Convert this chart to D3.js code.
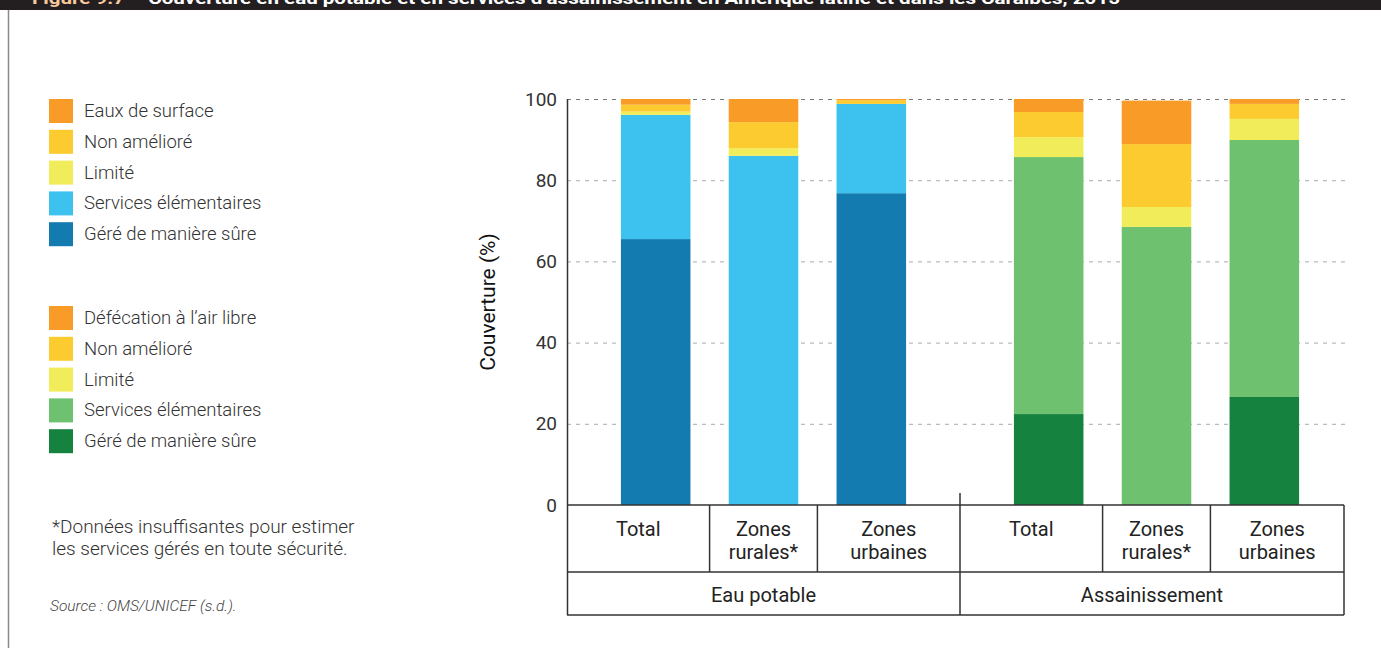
<!DOCTYPE html>
<html><head><meta charset="utf-8">
<script src="https://cdn.jsdelivr.net/npm/d3@7"></script>
<style>
html,body{margin:0;padding:0;background:#fff;}
svg{display:block;font-family:Roboto,"Noto Sans",sans-serif;}
</style></head>
<body><svg id="c" width="1381" height="648"></svg>
<script>
// ---- data ----
const groups = ["Eau potable", "Assainissement"];
const categories = ["Total", "Zones rurales*", "Zones urbaines"];
const categoryLines = [["Total"], ["Zones", "rurales*"], ["Zones", "urbaines"]];
const yTicks = [0, 20, 40, 60, 80, 100];

const waterSeries = ["Géré de manière sûre", "Services élémentaires", "Limité", "Non amélioré", "Eaux de surface"];
const sanitSeries = ["Géré de manière sûre", "Services élémentaires", "Limité", "Non amélioré", "Défécation à l’air libre"];

// values per category: Total, Zones rurales*, Zones urbaines
const waterSafe      = [65.5, 0,    76.8];
const waterBasic     = [30.6, 86.0, 22.0];
const waterLimited   = [0.8,  1.9,  0.0];
const waterUnimp     = [1.7,  6.4,  0.9];
const waterSurface   = [1.4,  5.7,  0.3];

const sanitSafe      = [22.4, 0,    26.6];
const sanitBasic     = [63.3, 68.5, 63.3];
const sanitLimited   = [4.9,  4.9,  5.2];
const sanitUnimp     = [6.2,  15.5, 3.7];
const sanitOpen      = [3.2,  10.7, 1.2];

const waterColors = ["#147bb1", "#3dc2ef", "#f0ec5a", "#fccb30", "#f89b27"];
const sanitColors = ["#15823f", "#6ec16f", "#f0ec5a", "#fccb30", "#f89b27"];

const legendWater = ["Eaux de surface", "Non amélioré", "Limité", "Services élémentaires", "Géré de manière sûre"];
const legendSanit = ["Défécation à l’air libre", "Non amélioré", "Limité", "Services élémentaires", "Géré de manière sûre"];

// ---- build ----
const svg = d3.select("#c");
const rows = [];
categories.forEach((c, i) => {
  rows.push({group: groups[0], cat: c, idx: i, vals: [waterSafe[i], waterBasic[i], waterLimited[i], waterUnimp[i], waterSurface[i]], colors: waterColors});
  rows.push({group: groups[1], cat: c, idx: i, vals: [sanitSafe[i], sanitBasic[i], sanitLimited[i], sanitUnimp[i], sanitOpen[i]], colors: sanitColors});
});

// title bar
svg.append("rect").attr("x", 0).attr("y", 0).attr("width", 1381).attr("height", 10).attr("fill", "#231f20");
const tt = svg.append("text").attr("x", 32).attr("y", 4).attr("font-size", 17).attr("font-weight", "bold")
  .attr("textLength", 1088).attr("lengthAdjust", "spacingAndGlyphs");
tt.append("tspan").attr("fill", "#f9c89b").text("Figure 9.7 – ");
tt.append("tspan").attr("fill", "#ffffff").text("Couverture en eau potable et en services d’assainissement en Amérique latine et dans les Caraïbes, 2015");
// left border
svg.append("line").attr("x1", 8.5).attr("x2", 8.5).attr("y1", 10).attr("y2", 648).attr("stroke", "#8a8a8a").attr("stroke-width", 1.5);

// scales
const plotRight = 1344;
const y = d3.scaleLinear().domain([0, 100]).range([505, 99]);
const x0 = d3.scaleBand().domain(groups).range([567, 1353]);
const x1 = d3.scaleBand().domain(categories).range([0, x0.bandwidth()]).paddingInner(0.355).paddingOuter(0.5);

// gridlines
const gridG = svg.append("g");
yTicks.filter(t => t > 0).forEach(t => {
  gridG.append("line").attr("x1", 567).attr("x2", 1346).attr("y1", y(t) + 0.5).attr("y2", y(t) + 0.5)
    .attr("stroke", t === 100 ? "#777" : "#aaa").attr("stroke-width", 1).attr("stroke-dasharray", "4,5");
});

// bars
const stackG = svg.append("g");
rows.forEach(r => {
  let acc = 0;
  r.vals.forEach((v, k) => {
    if (v > 0) {
      stackG.append("rect")
        .attr("x", x0(r.group) + x1(r.cat))
        .attr("width", x1.bandwidth())
        .attr("y", y(acc + v))
        .attr("height", y(acc) - y(acc + v))
        .attr("fill", r.colors[k]);
    }
    acc += v;
  });
});

// y axis
const yAxis = d3.axisLeft(y).tickValues(yTicks).tickSize(0).tickPadding(10);
const ya = svg.append("g").attr("transform", "translate(567,0)").call(yAxis);
ya.select(".domain").remove();
ya.selectAll("text").attr("font-size", 19).attr("fill", "#333").attr("font-family", "Roboto");
svg.append("line").attr("x1", 567.5).attr("x2", 567.5).attr("y1", 99).attr("y2", 615).attr("stroke", "#333").attr("stroke-width", 1.5);
svg.append("text").attr("transform", "translate(495,302) rotate(-90)").attr("text-anchor", "middle")
  .attr("font-size", 21).attr("fill", "#111").text("Couverture (%)");

// category table
const tbl = svg.append("g").attr("stroke", "#333").attr("stroke-width", 1.5);
tbl.append("line").attr("x1", 567).attr("x2", plotRight).attr("y1", 505).attr("y2", 505);
tbl.append("line").attr("x1", 567).attr("x2", plotRight).attr("y1", 572).attr("y2", 572);
tbl.append("line").attr("x1", 567).attr("x2", plotRight).attr("y1", 615).attr("y2", 615);
tbl.append("line").attr("x1", plotRight).attr("x2", plotRight).attr("y1", 505).attr("y2", 615);

const labG = svg.append("g").attr("font-size", 20).attr("fill", "#222").attr("text-anchor", "middle");
groups.forEach((g, gi) => {
  const gx = x0(g);
  const gEnd = gi === groups.length - 1 ? plotRight : gx + x0.bandwidth();
  if (gi > 0) tbl.append("line").attr("x1", gx).attr("x2", gx).attr("y1", 493).attr("y2", 615);
  const bounds = [gx];
  categories.forEach((c, ci) => {
    if (ci > 0) bounds.push(gx + (x1(categories[ci - 1]) + x1.bandwidth() + x1(c)) / 2);
  });
  bounds.push(gEnd);
  bounds.slice(1, -1).forEach(bx => tbl.append("line").attr("x1", bx).attr("x2", bx).attr("y1", 505).attr("y2", 572));
  categories.forEach((c, ci) => {
    const cx = (bounds[ci] + bounds[ci + 1]) / 2;
    categoryLines[ci].forEach((ln, li) => {
      labG.append("text").attr("x", cx).attr("y", 536 + li * 23).text(ln);
    });
  });
  labG.append("text").attr("x", (gx + gEnd) / 2).attr("y", 602).text(g);
});

// legends
function legend(items, colors, top) {
  const lg = svg.append("g");
  items.forEach((it, i) => {
    const yy = top + i * 30.8;
    lg.append("rect").attr("x", 49).attr("y", yy - 12).attr("width", 24).attr("height", 24).attr("fill", colors[i]);
    lg.append("text").attr("x", 84).attr("y", yy + 6).attr("font-size", 18.5).attr("font-weight", 300).attr("fill", "#333").text(it);
  });
}
legend(legendWater, waterColors.slice().reverse(), 111);
legend(legendSanit, sanitColors.slice().reverse(), 318);

// notes
svg.append("text").attr("x", 52).attr("y", 533).attr("font-size", 19).attr("font-weight", 300).attr("fill", "#333").text("*Données insuffisantes pour estimer");
svg.append("text").attr("x", 52).attr("y", 555).attr("font-size", 19).attr("font-weight", 300).attr("fill", "#333").text("les services gérés en toute sécurité.");
svg.append("text").attr("x", 50).attr("y", 611).attr("font-size", 15.5).attr("font-style", "italic").attr("font-weight", 300).attr("fill", "#444").text("Source : OMS/UNICEF (s.d.).");
</script></body></html>
